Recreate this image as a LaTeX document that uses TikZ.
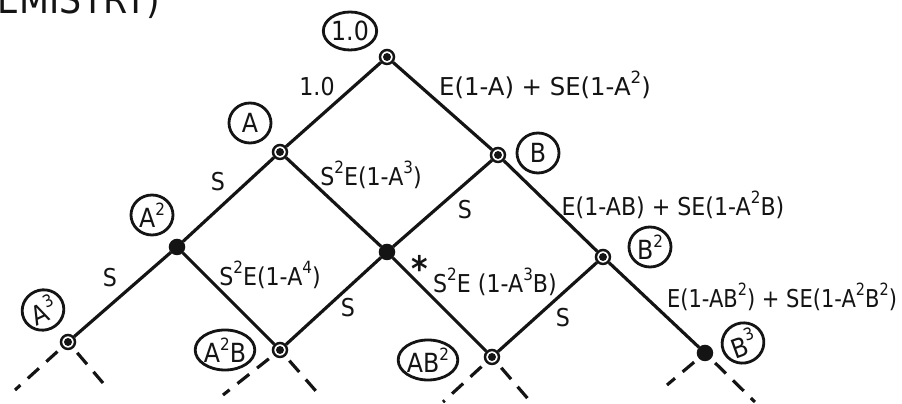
\documentclass[tikz,border=0pt]{standalone}
\usepackage{fontspec}
\setmainfont{DejaVu Sans}[FakeStretch=0.9]
\usepackage{xcolor}
\usepackage{graphicx}
\usepackage{tikz}
\usetikzlibrary{shapes.geometric}
\definecolor{ink}{RGB}{20,20,20}
\newcommand{\pw}[1]{\raisebox{0.85ex}{\fontsize{4.8}{5}\selectfont #1}}
\tikzset{
  site/.style={circle, draw=ink, fill=white, line width=0.7pt, minimum size=0.14cm, inner sep=0pt,
    path picture={\fill[ink] (path picture bounding box.center) circle (0.04cm);}},
  siteblk/.style={site, fill=ink},
  bond/.style={draw=ink, line width=0.9pt},
  stub/.style={draw=ink, line width=0.9pt, dash pattern=on 0.15cm off 0.1cm, shorten <=0.06cm},
  lbl/.style={font=\fontsize{7}{8}\selectfont, text=ink, inner sep=0pt},
  tag/.style={ellipse, draw=ink, line width=0.8pt, inner sep=0pt, minimum width=0.42cm,
    minimum height=0.4cm, font=\fontsize{7.5}{8}\selectfont, text=ink}
}
\begin{document}
\begin{tikzpicture}[x=1cm, y=1cm]
\useasboundingbox (0,0) rectangle (9.02,4.04);
\clip (0,0) rectangle (9.02,4.04);
\fill[white] (0,0) rectangle (9.02,4.04);

% ---- title (cut at the top) ----
\node[font=\fontsize{11}{12}\selectfont, text=ink, anchor=base west, inner sep=0pt]
  (title) at (-0.03,3.90) {EMISTRY)};

% ---- lattice sites ----
\foreach \n/\x/\y in {top/3.87/3.47, A/2.80/2.52, B/4.98/2.49, B2/6.03/1.47,
                      A3/0.68/0.62, A2B/2.80/0.54, AB2/4.92/0.47}{
  \node[site] (\n) at (\x,\y) {};
}
\foreach \n/\x/\y in {A2/1.77/1.57, C/3.87/1.52, B3/7.05/0.51}{
  \node[siteblk] (\n) at (\x,\y) {};
}

% ---- bonds ----
\foreach \a/\b in {top/A, top/B, A/A2, A/C, B/C, B/B2, A2/A3, A2/A2B,
                   C/A2B, C/AB2, B2/AB2, B2/B3}{
  \draw[bond] (\a) -- (\b);
}

% ---- dashed continuations ----
\foreach \n/\lx/\ly/\rx/\ry in {A3/0.15/0.14/1.03/0.21, A2B/2.23/0.09/3.22/0.06,
                                AB2/4.43/0.02/5.29/0.04, B3/6.67/0.19/7.55/0.02}{
  \coordinate (\n-l) at (\lx,\ly);
  \coordinate (\n-r) at (\rx,\ry);
  \draw[stub] (\n) -- (\n-l);
  \draw[stub] (\n) -- (\n-r);
}

% ---- circled site names ----
\node[tag, minimum width=0.52cm, minimum height=0.38cm] (t-top) at (3.50,3.73) {1.0};
\node[tag] (t-A)   at (2.50,2.81) {A};
\node[tag] (t-B)   at (5.38,2.51) {B};
\node[tag] (t-A2)  at (1.52,1.89) {A\pw{2}};
\node[tag] (t-B2)  at (6.50,1.57) {B\pw{2}};
\node[tag, rotate=25] (t-A3) at (0.43,0.94) {A\pw{3}};
\node[tag] (t-A2B) at (2.25,0.54) {A\pw{2}B};
\node[tag] (t-AB2) at (4.28,0.44) {AB\pw{2}};
\node[tag, rotate=20] (t-B3) at (7.43,0.61) {B\pw{3}};

% ---- bond weights ----
\foreach \n/\x/\y/\t in {w1/3.17/3.17/1.0,
                         w2/5.45/3.19/\scalebox{1.1}[1]{E(1-A) + SE(1-A\pw{2})},
                         w3/2.18/2.22/S,
                         w4/3.71/2.29/S\pw{2}E(1-A\pw{3}),
                         w5/4.65/1.94/S,
                         w6/6.73/1.99/E(1-AB) + SE(1-A\pw{2}B),
                         w7/1.10/1.26/S,
                         w8/2.70/1.29/S\pw{2}E(1-A\pw{4}),
                         w9/3.48/0.96/S,
                         w10/4.95/1.22/S\pw{2}E (1-A\pw{3}B),
                         w11/5.63/0.86/S,
                         w12/7.82/1.07/\scalebox{0.95}[1]{E(1-AB\pw{2}) + SE(1-A\pw{2}B\pw{2})}}{
  \node[lbl] (\n) at (\x,\y) {\t};
}
\node[lbl, font=\fontsize{10}{10}\selectfont\bfseries] (star) at (4.20,1.36) {*};
\end{tikzpicture}
\end{document}
